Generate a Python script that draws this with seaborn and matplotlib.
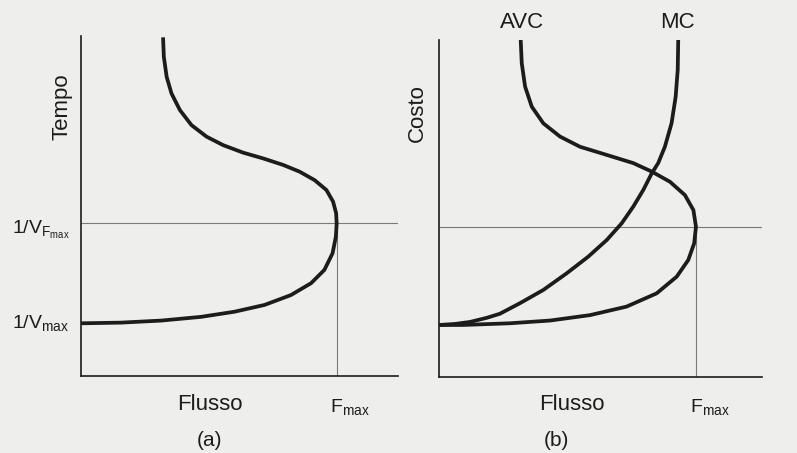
import numpy as np
import pandas as pd
import matplotlib
matplotlib.use("Agg")
import matplotlib.pyplot as plt
import seaborn as sns

# ---------------- data ----------------
# Panel (a): flow (x) vs travel time (y)
flow_a = [3.21, 3.24, 3.35, 3.54, 3.87, 4.32, 4.91, 5.56, 6.34, 7.12, 7.90,
          8.55, 9.14, 9.60, 9.86, 9.98, 10.0, 9.97, 9.84, 9.52, 9.00, 8.21,
          7.18, 6.00, 4.70, 3.14, 1.57, 0.0]
time_a = [9.96, 9.39, 8.80, 8.31, 7.82, 7.38, 7.04, 6.79, 6.57, 6.40, 6.21,
          6.01, 5.76, 5.47, 5.13, 4.79, 4.49, 4.10, 3.61, 3.12, 2.73, 2.38,
          2.09, 1.89, 1.74, 1.63, 1.57, 1.55]

# Panel (b): flow (x) vs cost (y)
flow_avc = [3.18, 3.22, 3.35, 3.61, 4.06, 4.71, 5.49, 6.53, 7.56, 8.28, 8.99,
            9.57, 9.90, 10.0, 9.93, 9.70, 9.25, 8.47, 7.30, 5.88, 4.32, 2.76,
            0.93, 0.0]
cost_avc = [9.91, 9.23, 8.54, 7.95, 7.46, 7.07, 6.77, 6.53, 6.29, 6.04, 5.74,
            5.35, 4.91, 4.42, 3.93, 3.44, 2.95, 2.46, 2.07, 1.82, 1.66, 1.58,
            1.53, 1.53]
flow_mc = [9.31, 9.29, 9.21, 9.05, 8.79, 8.53, 8.28, 7.95, 7.56, 7.11, 6.53,
           5.81, 4.97, 4.06, 3.15, 2.37, 1.86, 1.21, 0.62, 0.0]
cost_mc = [9.91, 9.03, 8.24, 7.46, 6.77, 6.29, 5.99, 5.50, 5.01, 4.52, 4.03,
           3.54, 3.05, 2.56, 2.17, 1.86, 1.74, 1.62, 1.56, 1.53]

f_max = 10.0          # capacity flow
t_fmax = 4.49         # 1/V_Fmax
t_vmax = 1.55         # 1/V_max
c_fmax = 4.42         # cost at capacity

curve_labels = ["AVC", "MC"]

# ---------------- styling ----------------
sns.set_style("white")
plt.rcParams["font.family"] = ["Liberation Sans", "DejaVu Sans"]
plt.rcParams["mathtext.fontset"] = "custom"
plt.rcParams["mathtext.rm"] = "Liberation Sans"
plt.rcParams["mathtext.it"] = "Liberation Sans"
plt.rcParams["lines.solid_joinstyle"] = "round"
plt.rcParams["lines.solid_capstyle"] = "butt"

bg = "#eeeeec"
ink = "#1c1c1c"
thin = "#7a7a7a"
fs_tick = 14
fs_lab = 16
fs_pan = 15
lw_curve = 2.7

W, H = 797, 453
fig = plt.figure(figsize=(W / 100, H / 100), dpi=100, facecolor=bg)

ax_a = fig.add_axes([81 / W, 1 - 376 / H, (398 - 81) / W, (376 - 36) / H])
ax_b = fig.add_axes([439 / W, 1 - 377 / H, (762 - 439) / W, (377 - 40) / H])

for ax in (ax_a, ax_b):
    ax.set_facecolor(bg)
    sns.despine(ax=ax)
    for s in ("left", "bottom"):
        ax.spines[s].set_color(ink)
        ax.spines[s].set_linewidth(1.2)

ax_a.set_xlim(0, 12.4)
ax_a.set_ylim(0, 10.0)
ax_b.set_xlim(0, 12.57)
ax_b.set_ylim(0, 9.91)

# ---------------- panel (a) ----------------
df_a = pd.DataFrame({"flow": flow_a, "time": time_a})
ax_a.axhline(t_fmax, color=thin, lw=0.8, zorder=1)
ax_a.plot([f_max, f_max], [0, t_fmax], color=thin, lw=0.8, zorder=1)
sns.lineplot(data=df_a, x="flow", y="time", sort=False, estimator=None,
             color=ink, lw=lw_curve, ax=ax_a, zorder=3)

ax_a.text(-0.45, t_fmax - 0.31, r"1/V$_{\mathrm{F}_{\mathrm{max}}}$", ha="right",
          va="baseline", fontsize=fs_tick, color=ink, clip_on=False)
ax_a.text(-0.45, t_vmax - 0.14, r"1/V$_{\mathrm{max}}$", ha="right",
          va="baseline", fontsize=fs_tick, color=ink, clip_on=False)
ax_a.text(f_max - 0.25, -1.05, r"F$_{\mathrm{max}}$", ha="left",
          va="baseline", fontsize=fs_tick, color=ink, clip_on=False)

# ---------------- panel (b) ----------------
df_b = pd.concat([
    pd.DataFrame({"flow": flow_avc, "cost": cost_avc, "curve": curve_labels[0]}),
    pd.DataFrame({"flow": flow_mc, "cost": cost_mc, "curve": curve_labels[1]}),
])
ax_b.axhline(c_fmax, color=thin, lw=0.8, zorder=1)
ax_b.plot([f_max, f_max], [0, c_fmax], color=thin, lw=0.8, zorder=1)
sns.lineplot(data=df_b, x="flow", y="cost", units="curve", sort=False,
             estimator=None, color=ink, lw=lw_curve, ax=ax_b, legend=False,
             zorder=3)

ax_b.text(flow_avc[0] + 0.05, cost_avc[0] + 0.2, curve_labels[0], ha="center",
          va="bottom", fontsize=fs_lab, color=ink, clip_on=False)
ax_b.text(flow_mc[0] - 0.05, cost_mc[0] + 0.2, curve_labels[1], ha="center",
          va="bottom", fontsize=fs_lab, color=ink, clip_on=False)
ax_b.text(f_max - 0.25, -1.02, r"F$_{\mathrm{max}}$", ha="left",
          va="baseline", fontsize=fs_tick, color=ink, clip_on=False)

for ax in (ax_a, ax_b):
    ax.set_xticks([])
    ax.set_yticks([])
    ax.set_xlabel("")
    ax.set_ylabel("")

# ---------------- axis titles & panel letters ----------------
def ftext(px, py, s, fs, **kw):
    fig.text(px / W, 1 - py / H, s, fontsize=fs, color=ink, **kw)

ftext(62, 107, "Tempo", fs_lab, rotation=90, ha="center", va="center")
ftext(417, 113, "Costo", fs_lab, rotation=90, ha="center", va="center")
ftext(210, 404, "Flusso", fs_lab, ha="center", va="center")
ftext(572, 404, "Flusso", fs_lab, ha="center", va="center")
ftext(210, 440, "(a)", fs_pan, ha="center", va="center")
ftext(556, 440, "(b)", fs_pan, ha="center", va="center")

fig.savefig("out.png", dpi=100, facecolor=bg)
